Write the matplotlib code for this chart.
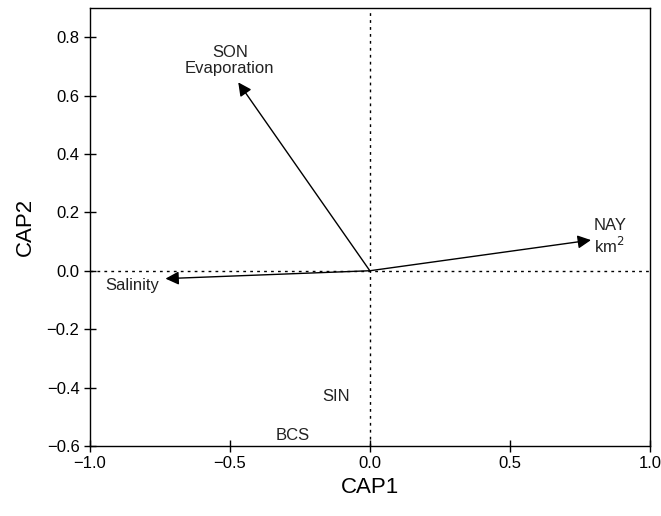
import matplotlib.pyplot as plt

# CAP biplot vectors (tip coordinates)
vec_names = ["NAY\nkm$^2$", "SON\nEvaporation", "Salinity"]
vec_x = [0.79, -0.47, -0.73]
vec_y = [0.105, 0.645, -0.027]

# label positions for the vectors
lab_x = [0.80, -0.50, -0.85]
lab_y = [0.115, 0.72, -0.05]

# group labels
grp_names = ["SIN", "BCS"]
grp_x = [-0.12, -0.275]
grp_y = [-0.43, -0.565]

fonts = ["Liberation Sans", "DejaVu Sans"]

fig = plt.figure(figsize=(6.61, 5.16), dpi=100)
ax = fig.add_axes([0.136, 0.1357, 0.847, 0.849])

ax.axhline(0, color="black", linestyle=(0, (2, 3)), linewidth=1)
ax.axvline(0, color="black", linestyle=(0, (2, 3)), linewidth=1)

for x, y in zip(vec_x, vec_y):
    ax.annotate("", xy=(x, y), xytext=(0, 0),
                arrowprops=dict(arrowstyle="-|>", color="black", lw=1,
                                mutation_scale=20, shrinkA=0, shrinkB=0))

for name, x, y in zip(vec_names, lab_x, lab_y):
    ha = "left" if x > 0.5 else "center"
    ax.text(x, y, name, ha=ha, va="center", fontsize=12, family=fonts,
            color="#222222", linespacing=1.15)

for name, x, y in zip(grp_names, grp_x, grp_y):
    ax.text(x, y, name, ha="center", va="center", fontsize=12, family=fonts,
            color="#222222")

ax.set_xlim(-1, 1)
ax.set_ylim(-0.6, 0.9)
ax.set_xticks([-1.0, -0.5, 0.0, 0.5, 1.0])
ax.set_yticks([-0.6, -0.4, -0.2, 0.0, 0.2, 0.4, 0.6, 0.8])
ax.set_xticklabels(["\u22121.0", "\u22120.5", "0.0", "0.5", "1.0"])
ax.set_yticklabels(["\u22120.6", "\u22120.4", "\u22120.2", "0.0", "0.2", "0.4", "0.6", "0.8"])
ax.tick_params(direction="inout", length=8, labelsize=12, width=1)
for lab in ax.get_xticklabels() + ax.get_yticklabels():
    lab.set_family(fonts)

ax.set_xlabel("CAP1", fontsize=16, family=fonts, labelpad=4)
ax.set_ylabel("CAP2", fontsize=16, family=fonts, labelpad=8)

for s in ax.spines.values():
    s.set_linewidth(1)

fig.savefig("out.png", dpi=100)
